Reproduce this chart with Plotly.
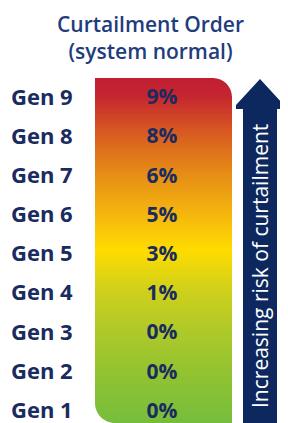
import plotly.graph_objects as go
import numpy as np

# ---- data ----
categories = ["Gen 1", "Gen 2", "Gen 3", "Gen 4", "Gen 5", "Gen 6", "Gen 7", "Gen 8", "Gen 9"]
curtailment_pct = [0, 0, 0, 1, 3, 5, 6, 8, 9]
title_lines = ["Curtailment Order", "(system normal)"]
arrow_label = "Increasing risk of curtailment"

# page body has an 8px margin: the figure starts at window pixel (8, 8)
OFF = 8
WIN_W, WIN_H = 288, 423
W, H = WIN_W - OFF, WIN_H - OFF
NAVY = "#1a2b5f"
TITLE_BLUE = "#1f3c7c"
ARROW_NAVY = "#0d285f"

idx = list(range(1, len(categories) + 1))

# y axis: category index; rows placed so Gen9 sits at ~99px, Gen1 at ~412px (window px)
gen9_px, gen1_px = 99, 412.5
row_px = (gen1_px - gen9_px) / 8
y_top_val = 9 + (gen9_px - OFF) / row_px
y_bot_val = 1 - (WIN_H - gen1_px) / row_px


def py(px):
    return 1 - (px - OFF) / H


# gradient band behind the values
grad_top = 9 + (gen9_px - 78) / row_px
n = 240
yedges = np.linspace(y_bot_val, grad_top, n + 1)
zcol = [[(i + 0.5) / n] for i in range(n)]
colorscale = [
    [0.00, "#76bd3d"],
    [0.12, "#8dc233"],
    [0.25, "#aac82a"],
    [0.38, "#cdd01c"],
    [0.50, "#ffdc00"],
    [0.62, "#f3b10f"],
    [0.73, "#e58a16"],
    [0.85, "#d75722"],
    [0.95, "#c4242f"],
    [1.00, "#c01f33"],
]

fig = go.Figure()
fig.add_trace(go.Heatmap(
    x=[95, 232], y=yedges, z=zcol, colorscale=colorscale, zmin=0, zmax=1,
    showscale=False, hoverinfo="skip",
))

fig.add_trace(go.Scatter(
    x=[11] * len(categories), y=idx, text=categories, mode="text",
    textposition="middle right",
    textfont=dict(family="Open Sans", size=22, color=NAVY, weight="bold"),
    hoverinfo="skip",
))
fig.add_trace(go.Scatter(
    x=[162] * len(categories), y=idx, text=[f"{v}%" for v in curtailment_pct],
    mode="text", textposition="middle center",
    textfont=dict(family="Open Sans", size=21, color=NAVY, weight="bold"),
    hoverinfo="skip",
))

k = 0.5523
shapes = []
# top-right rounded corner mask
r = 19
x0, y0 = 232, 78
p = (f"M {x0 - r},{py(y0 - 1)} L {x0 - r},{py(y0)} "
     f"C {x0 - r + k * r},{py(y0)} {x0},{py(y0 + r - k * r)} {x0},{py(y0 + r)} "
     f"L {x0 + 1},{py(y0 + r)} L {x0 + 1},{py(y0 - 1)} Z")
shapes.append(dict(type="path", path=p, xref="x", yref="paper",
                   fillcolor="white", line=dict(width=0), layer="above"))
# bottom-left rounded corner mask
r = 20
x1, y1 = 95, WIN_H
p = (f"M {x1 - 1},{py(y1 - r)} L {x1},{py(y1 - r)} "
     f"C {x1},{py(y1 - r + k * r)} {x1 + r - k * r},{py(y1)} {x1 + r},{py(y1)} "
     f"L {x1 + r},{py(y1 + 1)} L {x1 - 1},{py(y1 + 1)} Z")
shapes.append(dict(type="path", path=p, xref="x", yref="paper",
                   fillcolor="white", line=dict(width=0), layer="above"))
# arrow
p = (f"M 243,{py(WIN_H + 2)} L 243,{py(109)} L 236,{py(109)} L 236,{py(105)} "
     f"L 260,{py(79)} L 284,{py(105)} L 284,{py(109)} L 277,{py(109)} L 277,{py(WIN_H + 2)} Z")
shapes.append(dict(type="path", path=p, xref="x", yref="paper",
                   fillcolor=ARROW_NAVY, line=dict(width=0), layer="above"))

annotations = [
    dict(x=150, y=py(37), xref="x", yref="paper",
         text=title_lines[0] + "<br>" + title_lines[1], showarrow=False,
         font=dict(family="Open Sans", size=21, color=TITLE_BLUE, weight=600),
         xanchor="center", yanchor="middle", align="center"),
    dict(x=260, y=py(266), xref="x", yref="paper", text=arrow_label, showarrow=False,
         textangle=-90, font=dict(family="Open Sans", size=21, color="white"),
         xanchor="center", yanchor="middle"),
]

fig.update_layout(
    width=W, height=H, margin=dict(l=0, r=0, t=0, b=0),
    paper_bgcolor="white", plot_bgcolor="white",
    showlegend=False, shapes=shapes, annotations=annotations,
    xaxis=dict(range=[OFF, WIN_W], visible=False, fixedrange=True),
    yaxis=dict(range=[y_bot_val, y_top_val], visible=False, fixedrange=True),
)

fig.write_html("out.html")
